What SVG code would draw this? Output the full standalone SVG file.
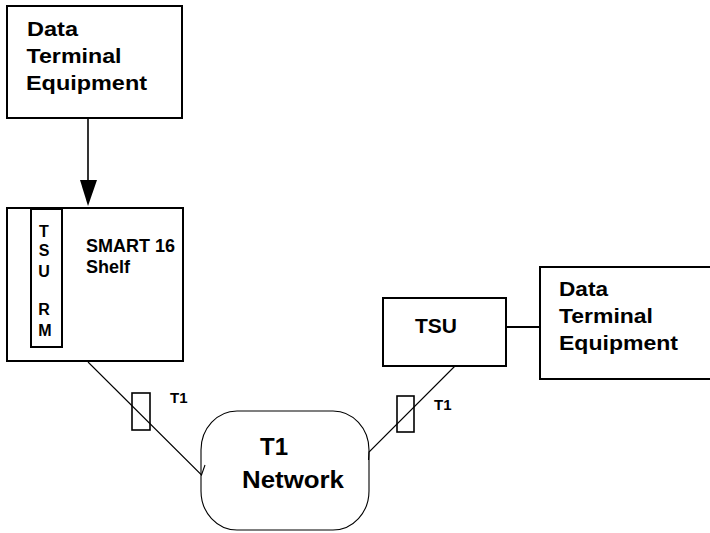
<svg xmlns="http://www.w3.org/2000/svg" width="710" height="533" viewBox="0 0 710 533">
<style>
.box{fill:#fff;stroke:#000;stroke-width:2}
.thin{fill:none;stroke:#000;stroke-width:1.1}
.mid{fill:none;stroke:#000;stroke-width:1.6}
text{font-family:"Liberation Sans",Arial,sans-serif;font-weight:bold;fill:#000}
.dte{font-size:20px}
.t1{font-size:15px}
.tsurm{font-size:16px;text-anchor:middle}
</style>
<rect width="710" height="533" fill="#fff"/>
<g id="connectors">
  <line x1="88" y1="118" x2="88" y2="182" class="mid"/>
  <polygon points="80,180 97,180 88,206" fill="#000"/>
  <path d="M88,362 L201.5,475 L205,465" class="thin"/>
  <path d="M457,364 L369,452 L368.5,460" class="thin"/>
  <line x1="506" y1="327" x2="540" y2="327" stroke="#000" stroke-width="2"/>
</g>
<g id="dte-top">
  <rect x="7" y="6" width="175" height="112" class="box"/>
  <text class="dte" x="27" y="36" textLength="51" lengthAdjust="spacingAndGlyphs">Data</text>
  <text class="dte" x="26.5" y="63" textLength="95" lengthAdjust="spacingAndGlyphs">Terminal</text>
  <text class="dte" x="26" y="90" textLength="121" lengthAdjust="spacingAndGlyphs">Equipment</text>
</g>
<g id="smart16-shelf">
  <rect x="7" y="208" width="176" height="153" class="box"/>
  <text x="86" y="252" font-size="18">SMART 16</text>
  <text x="86" y="273" font-size="18">Shelf</text>
</g>
<g id="tsu-rm">
  <rect x="31" y="209" width="31" height="138" class="box"/>
  <text class="tsurm" x="44" y="237">T</text>
  <text class="tsurm" x="44" y="256">S</text>
  <text class="tsurm" x="44" y="277">U</text>
  <text class="tsurm" x="44" y="315">R</text>
  <text class="tsurm" x="45" y="336">M</text>
</g>
<g id="t1-left">
  <rect x="132" y="393" width="18" height="37" class="mid"/>
  <text class="t1" x="170" y="403">T1</text>
</g>
<g id="t1-network">
  <rect x="201" y="411" width="168" height="119" rx="36" ry="39" class="thin" fill="#fff"/>
  <text x="260" y="455" font-size="24">T1</text>
  <text x="242" y="488" font-size="24" textLength="102" lengthAdjust="spacingAndGlyphs">Network</text>
</g>
<g id="t1-right">
  <rect x="397" y="396" width="17" height="36" class="mid"/>
  <text class="t1" x="434" y="410">T1</text>
</g>
<g id="tsu">
  <rect x="383" y="298" width="123" height="68" class="box"/>
  <text x="415" y="333" font-size="21">TSU</text>
</g>
<g id="dte-right">
  <rect x="540" y="267" width="200" height="112" class="box"/>
  <text class="dte" x="559" y="296" textLength="49" lengthAdjust="spacingAndGlyphs">Data</text>
  <text class="dte" x="559" y="323" textLength="94" lengthAdjust="spacingAndGlyphs">Terminal</text>
  <text class="dte" x="559" y="350" textLength="119" lengthAdjust="spacingAndGlyphs">Equipment</text>
</g>
</svg>
